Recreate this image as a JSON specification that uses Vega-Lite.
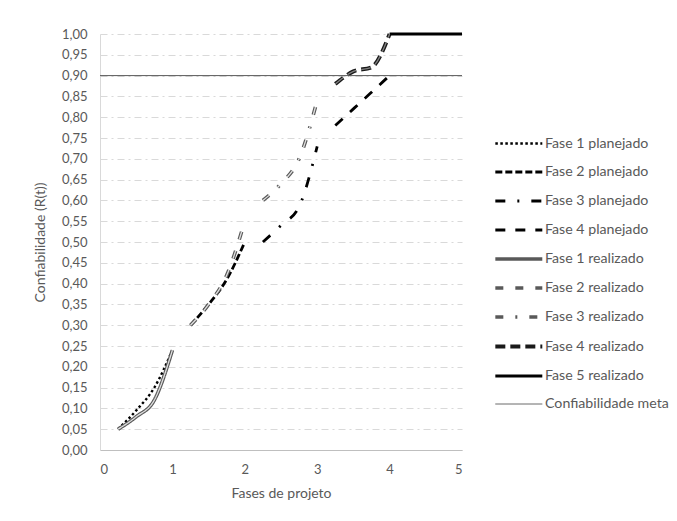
{
  "$schema": "https://vega.github.io/schema/vega-lite/v6.json",
  "width": 362,
  "height": 416,
  "autosize": {"type": "none"},
  "padding": {"left": 100, "top": 34, "right": 215, "bottom": 71},
  "background": "white",
  "data": {
    "values": [
      {"serie": "Fase 1 planejado", "x": 0.25, "y": 0.05},
      {"serie": "Fase 1 planejado", "x": 0.5, "y": 0.095},
      {"serie": "Fase 1 planejado", "x": 0.75, "y": 0.15},
      {"serie": "Fase 1 planejado", "x": 1.0, "y": 0.24},
      {"serie": "Fase 2 planejado", "x": 1.25, "y": 0.30},
      {"serie": "Fase 2 planejado", "x": 1.5, "y": 0.35},
      {"serie": "Fase 2 planejado", "x": 1.75, "y": 0.41},
      {"serie": "Fase 2 planejado", "x": 2.0, "y": 0.50},
      {"serie": "Fase 3 planejado", "x": 2.25, "y": 0.50},
      {"serie": "Fase 3 planejado", "x": 2.5, "y": 0.54},
      {"serie": "Fase 3 planejado", "x": 2.75, "y": 0.585},
      {"serie": "Fase 3 planejado", "x": 3.0, "y": 0.73},
      {"serie": "Fase 4 planejado", "x": 3.25, "y": 0.78},
      {"serie": "Fase 4 planejado", "x": 3.5, "y": 0.82},
      {"serie": "Fase 4 planejado", "x": 3.75, "y": 0.86},
      {"serie": "Fase 4 planejado", "x": 4.0, "y": 0.90},
      {"serie": "Fase 1 realizado", "x": 0.25, "y": 0.05},
      {"serie": "Fase 1 realizado", "x": 0.5, "y": 0.08},
      {"serie": "Fase 1 realizado", "x": 0.75, "y": 0.12},
      {"serie": "Fase 1 realizado", "x": 1.0, "y": 0.24},
      {"serie": "Fase 2 realizado", "x": 1.25, "y": 0.30},
      {"serie": "Fase 2 realizado", "x": 1.5, "y": 0.35},
      {"serie": "Fase 2 realizado", "x": 1.75, "y": 0.42},
      {"serie": "Fase 2 realizado", "x": 2.0, "y": 0.55},
      {"serie": "Fase 3 realizado", "x": 2.25, "y": 0.60},
      {"serie": "Fase 3 realizado", "x": 2.5, "y": 0.64},
      {"serie": "Fase 3 realizado", "x": 2.75, "y": 0.70},
      {"serie": "Fase 3 realizado", "x": 3.0, "y": 0.84},
      {"serie": "Fase 4 realizado", "x": 3.25, "y": 0.88},
      {"serie": "Fase 4 realizado", "x": 3.5, "y": 0.91},
      {"serie": "Fase 4 realizado", "x": 3.75, "y": 0.92},
      {"serie": "Fase 4 realizado", "x": 4.0, "y": 1.0},
      {"serie": "Fase 5 realizado", "x": 4.0, "y": 1.0},
      {"serie": "Fase 5 realizado", "x": 5.0, "y": 1.0},
      {"serie": "Confiabilidade meta", "x": 0, "y": 0.9},
      {"serie": "Confiabilidade meta", "x": 5, "y": 0.9}
    ]
  },
  "encoding": {
    "x": {
      "field": "x", "type": "quantitative",
      "scale": {"domain": [0, 5], "nice": false},
      "axis": {
        "title": "Fases de projeto",
        "values": [0, 1, 2, 3, 4, 5],
        "format": "d",
        "grid": false,
        "ticks": false,
        "domainColor": "#bfbfbf",
        "labelPadding": 13,
        "titlePadding": 10
      }
    },
    "y": {
      "field": "y", "type": "quantitative",
      "scale": {"domain": [0, 1], "nice": false},
      "axis": {
        "title": "Confiabilidade (R(t))",
        "values": [0, 0.05, 0.1, 0.15, 0.2, 0.25, 0.3, 0.35, 0.4, 0.45, 0.5, 0.55, 0.6, 0.65, 0.7, 0.75, 0.8, 0.85, 0.9, 0.95, 1],
        "labelExpr": "replace(format(datum.value, '.2f'), '.', ',')",
        "grid": true,
        "gridColor": "#d9d9d9",
        "gridDash": [7, 4, 2, 4],
        "ticks": false,
        "domainColor": "#d9d9d9",
        "labelPadding": 13,
        "titlePadding": 14
      }
    }
  },
  "layer": [
    {
      "mark": {"type": "line", "interpolate": "monotone", "strokeCap": "butt"},
      "encoding": {
        "stroke": {
          "field": "serie", "type": "nominal",
          "scale": {
            "domain": ["Fase 1 planejado", "Fase 2 planejado", "Fase 3 planejado", "Fase 4 planejado", "Fase 1 realizado", "Fase 2 realizado", "Fase 3 realizado", "Fase 4 realizado", "Fase 5 realizado", "Confiabilidade meta"],
            "range": ["#000000", "#000000", "#000000", "#000000", "#595959", "#595959", "#595959", "#1a1a1a", "#000000", "#595959"]
          },
          "legend": {
            "title": null,
            "orient": "none",
            "legendX": 393,
            "legendY": 89,
            "symbolType": "M-1,0H1.45",
            "symbolSize": 1470,
            "labelFontSize": 14.2,
            "labelFont": "Lato",
            "labelColor": "#595959",
            "labelOffset": 9,
            "rowPadding": 0,
            "padding": 0
          }
        },
        "strokeDash": {
          "field": "serie", "type": "nominal",
          "scale": {
            "type": "ordinal",
            "domain": ["Fase 1 planejado", "Fase 2 planejado", "Fase 3 planejado", "Fase 4 planejado", "Fase 1 realizado", "Fase 2 realizado", "Fase 3 realizado", "Fase 4 realizado", "Fase 5 realizado", "Confiabilidade meta"],
            "range": [[2.5, 2.5], [7, 3], [10, 12, 2, 12], [10, 10], [1, 0], [8, 12], [8, 12, 2, 12], [10, 5], [1, 0], [1, 0]]
          }
        },
        "strokeWidth": {
          "field": "serie", "type": "nominal",
          "scale": {
            "type": "ordinal",
            "domain": ["Fase 1 planejado", "Fase 2 planejado", "Fase 3 planejado", "Fase 4 planejado", "Fase 1 realizado", "Fase 2 realizado", "Fase 3 realizado", "Fase 4 realizado", "Fase 5 realizado", "Confiabilidade meta"],
            "range": [2.4, 2.8, 2.8, 2.8, 3.6, 3.6, 3.6, 4, 3, 1]
          }
        }
      }
    },
    {
      "transform": [{"filter": "indexof(['Fase 1 realizado','Fase 2 realizado','Fase 3 realizado','Fase 4 realizado'], datum.serie) >= 0"}],
      "mark": {"type": "line", "interpolate": "monotone", "strokeCap": "butt", "strokeWidth": 1.3},
      "encoding": {
        "stroke": {
          "condition": {"test": "datum.serie === 'Fase 4 realizado'", "value": "#808080"},
          "value": "#e0e0e0"
        },
        "strokeDash": {
          "field": "serie", "type": "nominal", "legend": null
        },
        "detail": {"field": "serie", "type": "nominal"}
      }
    }
  ],
  "config": {
    "font": "Lato",
    "view": {"stroke": null},
    "axis": {
      "labelFont": "Lato",
      "labelFontSize": 13,
      "labelColor": "#595959",
      "titleFont": "Lato",
      "titleFontSize": 14,
      "titleFontWeight": "normal",
      "titleColor": "#595959"
    }
  }
}
